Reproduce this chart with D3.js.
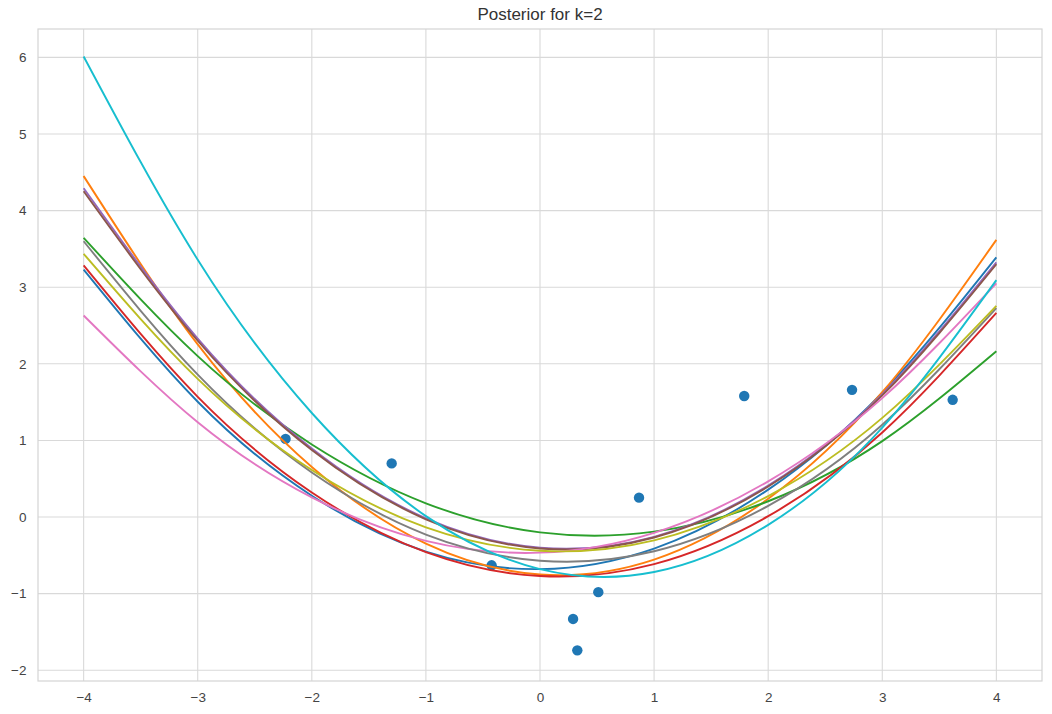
<!DOCTYPE html>
<html>
<head>
<meta charset="utf-8">
<script src="https://cdn.jsdelivr.net/npm/d3@7"></script>
<style>
  body { margin: 0; background: #fff; }
  svg { display: block; font-family: "Liberation Sans", Arial, sans-serif; }
</style>
</head>
<body>
<svg id="chart" width="1052" height="714"></svg>
<script>
// sample grid for the posterior curves
const xs = [-4, -3, -2, -1, 0, 1, 2, 3, 4];

// one posterior draw per row at each x in xs
const curveBlue   = [3.23, 1.505, 0.278, -0.451, -0.68, -0.411, 0.358, 1.625, 3.39];
const curveOrange = [4.45, 2.253, 0.654, -0.347, -0.75, -0.555, 0.238, 1.629, 3.618];
const curveGreen  = [3.644, 2.101, 0.946, 0.179, -0.2, -0.191, 0.206, 0.991, 2.164];
const curveRed    = [3.284, 1.569, 0.321, -0.459, -0.77, -0.614, 0.011, 1.104, 2.664];
const curvePurple = [4.292, 2.33, 0.894, -0.016, -0.40, -0.258, 0.41, 1.604, 3.324];
const curveBrown  = [4.252, 2.301, 0.874, -0.029, -0.41, -0.267, 0.398, 1.587, 3.30];
const curvePink   = [2.631, 1.237, 0.256, -0.311, -0.465, -0.206, 0.466, 1.552, 3.051];
const curveGray   = [3.60, 1.858, 0.582, -0.228, -0.57, -0.446, 0.146, 1.204, 2.728];
const curveOlive  = [3.436, 1.804, 0.614, -0.134, -0.44, -0.304, 0.274, 1.294, 2.756];
const curveCyan   = [6.012, 3.358, 1.358, 0.012, -0.68, -0.718, -0.102, 1.168, 3.092];

const curves = [curveBlue, curveOrange, curveGreen, curveRed, curvePurple,
                curveBrown, curvePink, curveGray, curveOlive, curveCyan];

// observed data points
const pointsX = [-2.23, -1.30, -0.424, 0.511, 0.29, 0.327, 0.868, 1.79, 2.735, 3.617];
const pointsY = [1.02, 0.70, -0.63, -0.98, -1.33, -1.74, 0.253, 1.58, 1.66, 1.53];

const xTicks = [-4, -3, -2, -1, 0, 1, 2, 3, 4];
const yTicks = [-2, -1, 0, 1, 2, 3, 4, 5, 6];

const colors = d3.schemeCategory10;

const svg = d3.select("#chart");
const plotLeft = 38, plotRight = 1042, plotTop = 29, plotBottom = 681;

const x = d3.scaleLinear().domain([-4.4, 4.4]).range([plotLeft, plotRight]);
const y = d3.scaleLinear().domain([-2.14, 6.37]).range([plotBottom, plotTop]);

// grid
svg.append("g")
    .selectAll("line")
    .data(xTicks)
    .join("line")
    .attr("x1", d => x(d)).attr("x2", d => x(d))
    .attr("y1", plotTop).attr("y2", plotBottom)
    .attr("stroke", "#d9d9d9").attr("stroke-width", 1.1);

svg.append("g")
    .selectAll("line")
    .data(yTicks)
    .join("line")
    .attr("x1", plotLeft).attr("x2", plotRight)
    .attr("y1", d => y(d)).attr("y2", d => y(d))
    .attr("stroke", "#d9d9d9").attr("stroke-width", 1.1);

// frame
svg.append("rect")
    .attr("x", plotLeft).attr("y", plotTop)
    .attr("width", plotRight - plotLeft).attr("height", plotBottom - plotTop)
    .attr("fill", "none").attr("stroke", "#d4d4d4").attr("stroke-width", 1.2);

// axes labels (no tick marks, whitegrid style)
const xAxis = d3.axisBottom(x).tickValues(xTicks).tickSize(0).tickPadding(11);
const yAxis = d3.axisLeft(y).tickValues(yTicks).tickSize(0).tickPadding(11.5);

svg.append("g")
    .attr("transform", `translate(0,${plotBottom})`)
    .call(xAxis)
    .call(g => g.select(".domain").remove())
    .selectAll("text")
    .attr("font-size", 13.5).attr("fill", "#444")
    .attr("font-family", "Liberation Sans, Arial, sans-serif");

svg.append("g")
    .attr("transform", `translate(${plotLeft},0)`)
    .call(yAxis)
    .call(g => g.select(".domain").remove())
    .selectAll("text")
    .attr("font-size", 13.5).attr("fill", "#444")
    .attr("font-family", "Liberation Sans, Arial, sans-serif");

// scatter sits under the lines
svg.append("g")
    .selectAll("circle")
    .data(pointsX.map((d, i) => [d, pointsY[i]]))
    .join("circle")
    .attr("cx", d => x(d[0]))
    .attr("cy", d => y(d[1]))
    .attr("r", 5.2)
    .attr("fill", "#1f77b4");

const line = d3.line()
    .x(d => x(d[0]))
    .y(d => y(d[1]))
    .curve(d3.curveNatural);

svg.append("g")
    .selectAll("path")
    .data(curves)
    .join("path")
    .attr("d", c => line(xs.map((v, i) => [v, c[i]])))
    .attr("fill", "none")
    .attr("stroke", (c, i) => colors[i])
    .attr("stroke-width", 1.9);

svg.append("text")
    .attr("x", (plotLeft + plotRight) / 2)
    .attr("y", 19.5)
    .attr("text-anchor", "middle")
    .attr("font-size", 17)
    .attr("fill", "#333")
    .text("Posterior for k=2");
</script>
</body>
</html>
